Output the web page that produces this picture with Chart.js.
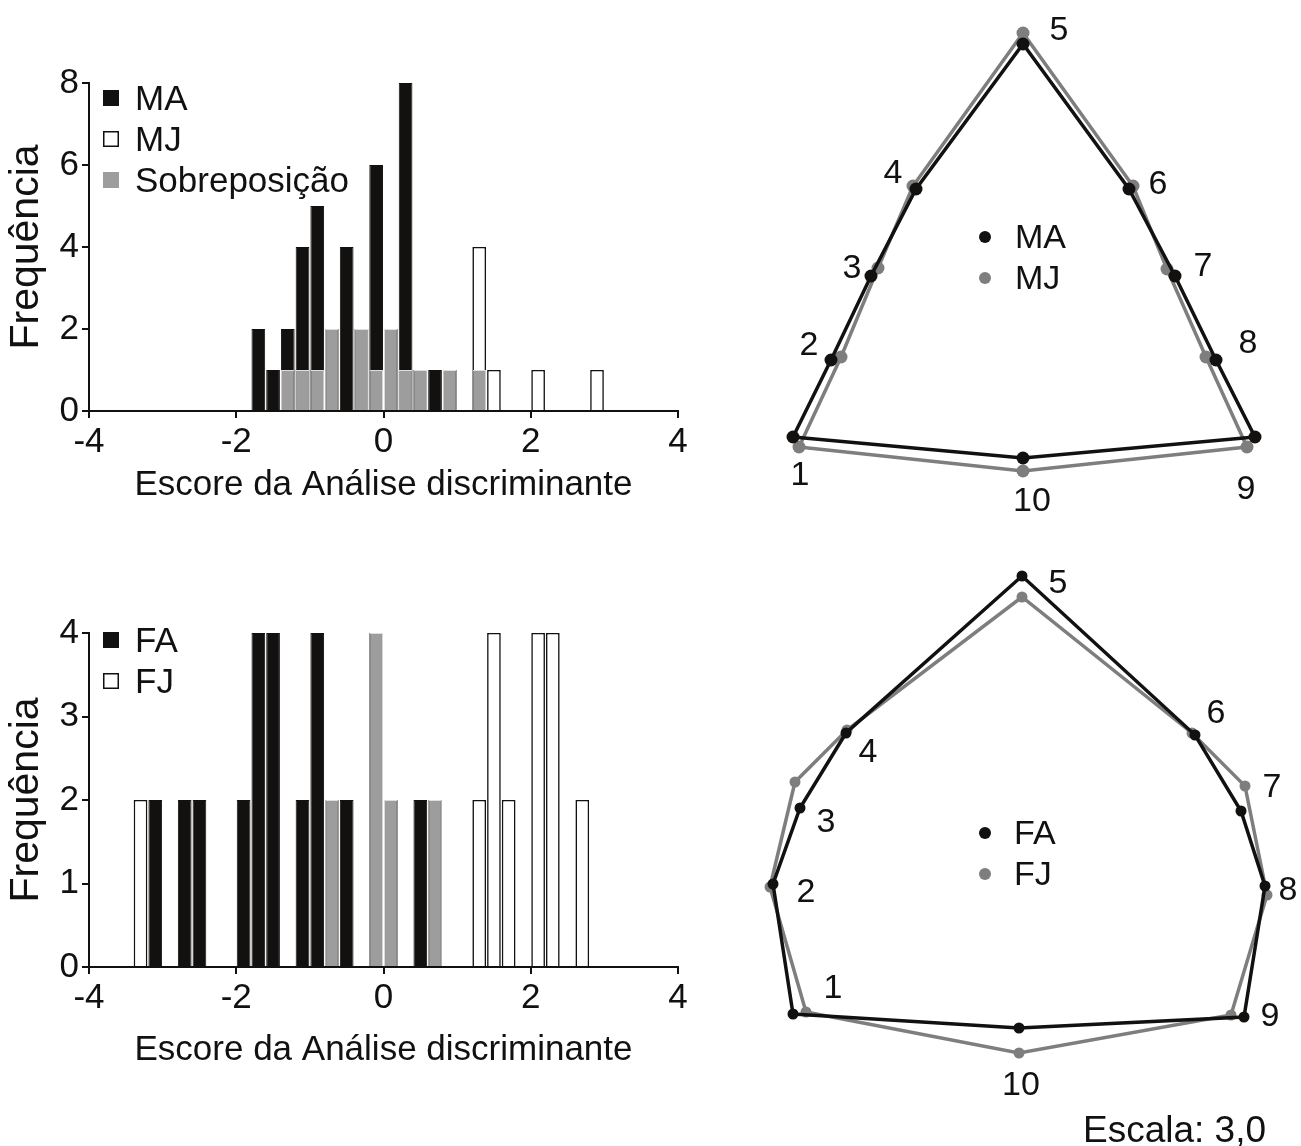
<!DOCTYPE html>
<html lang="pt">
<head>
<meta charset="utf-8">
<title>Análise discriminante e forma média</title>
<script src="https://cdn.jsdelivr.net/npm/chart.js@4.4.1/dist/chart.umd.min.js"></script>
<style>
  html, body { margin: 0; padding: 0; background: #fff; }
  body { width: 1301px; height: 1146px; position: relative; overflow: hidden;
         font-family: "Liberation Sans", Arial, sans-serif; }
  canvas { position: absolute; }
  #escala { position: absolute; left: 1083px; top: 1107px; font-size: 37px; line-height: 46px; color: #111; }
</style>
</head>
<body>
<canvas id="histMachos" width="720" height="540" style="left:0;top:0"></canvas>
<canvas id="histFemeas" width="720" height="586" style="left:0;top:560px"></canvas>
<canvas id="formaMachos" width="541" height="540" style="left:760px;top:0"></canvas>
<canvas id="formaFemeas" width="561" height="596" style="left:740px;top:550px"></canvas>
<div id="escala">Escala: 3,0</div>
<script>
// ---------- Histogram data: bin centres of the discriminant score and counts per bin ----------
const scoreBinsMachos = [-1.7, -1.5, -1.3, -1.1, -0.9, -0.7, -0.5, -0.3, -0.1, 0.1, 0.3, 0.5,
                         0.7, 0.9, 1.1, 1.3, 1.5, 1.7, 1.9, 2.1, 2.3, 2.5, 2.7, 2.9];
const freqMA            = [2, 1, 2, 4, 5, 2, 4, 2, 6, 2, 8, 1, 1, 1, 0, 1, 0, 0, 0, 0, 0, 0, 0, 0];
const freqMJ            = [0, 0, 1, 1, 1, 2, 0, 2, 1, 2, 1, 1, 0, 1, 0, 4, 1, 0, 0, 1, 0, 0, 0, 1];
const freqSobrepMachos  = [0, 0, 1, 1, 1, 2, 0, 2, 1, 2, 1, 1, 0, 1, 0, 1, 0, 0, 0, 0, 0, 0, 0, 0];

const scoreBinsFemeas = [-3.3, -3.1, -2.7, -2.5, -1.9, -1.7, -1.5, -1.1, -0.9, -0.7, -0.5,
                         -0.1, 0.1, 0.5, 0.7, 1.3, 1.5, 1.7, 2.1, 2.3, 2.7];
const freqFA            = [0, 2, 2, 2, 2, 4, 4, 2, 4, 2, 2, 4, 2, 2, 2, 0, 0, 0, 0, 0, 0];
const freqFJ            = [2, 0, 0, 0, 0, 0, 0, 0, 0, 2, 0, 4, 2, 0, 2, 2, 4, 2, 4, 4, 2];
const freqSobrepFemeas  = [0, 0, 0, 0, 0, 0, 0, 0, 0, 2, 0, 4, 2, 0, 2, 0, 0, 0, 0, 0, 0];

const scoreTicks      = [-4, -2, 0, 2, 4];
const freqTicksMachos = [0, 2, 4, 6, 8];
const freqTicksFemeas = [0, 1, 2, 3, 4];

// ---------- Mean shapes: landmark coordinates (landmarks 1..10) ----------
const landmarkNames = ['1', '2', '3', '4', '5', '6', '7', '8', '9', '10'];
const formaMA = [[-2.30, 0.21], [-1.92, 0.98], [-1.52, 1.82], [-1.07, 2.69], [0.00, 4.14],
                 [1.06, 2.69], [1.52, 1.82], [1.93, 0.98], [2.32, 0.21], [0.00, 0.00]];
const formaMJ = [[-2.24, 0.11], [-1.82, 1.01], [-1.45, 1.90], [-1.10, 2.72], [0.00, 4.25],
                 [1.10, 2.72], [1.44, 1.89], [1.83, 1.01], [2.24, 0.11], [0.00, -0.13]];
const formaFA = [[-2.27, 0.14], [-2.47, 1.44], [-2.20, 2.20], [-1.74, 2.95], [0.02, 4.52],
                 [1.75, 2.93], [2.21, 2.17], [2.45, 1.42], [2.24, 0.11], [-0.01, 0.00]];
const formaFJ = [[-2.14, 0.16], [-2.50, 1.41], [-2.25, 2.46], [-1.73, 2.98], [0.02, 4.31],
                 [1.72, 2.95], [2.25, 2.42], [2.47, 1.33], [2.11, 0.13], [-0.01, -0.25]];

// ---------- Styling ----------
const FONT = '"Liberation Sans", Arial, Helvetica, sans-serif';
const INK = '#111111';
const BAR_BLACK = '#121110';
const BAR_GRAY = '#9d9d9d';
const LINE_GRAY = '#7e7e7e';

Chart.defaults.font.family = FONT;
Chart.defaults.color = INK;

const toBars = (bins, counts) => bins.map((x, i) => ({ x, y: counts[i] > 0 ? counts[i] : null }));

// Square-swatch legend drawn inside the plot area
const squareLegend = {
  id: 'squareLegend',
  afterDraw(chart, args, opts) {
    const { ctx } = chart;
    ctx.save();
    ctx.font = `${opts.fontSize}px ${FONT}`;
    ctx.textBaseline = 'middle';
    ctx.textAlign = 'left';
    opts.datasets.forEach((di, i) => {
      const ds = chart.data.datasets[di];
      const cy = opts.top + i * opts.spacing;
      const s = opts.size;
      ctx.fillStyle = ds.backgroundColor;
      ctx.fillRect(opts.left, cy - s / 2, s, s);
      if (ds.backgroundColor === '#ffffff') {
        ctx.strokeStyle = INK;
        ctx.lineWidth = 1.5;
        ctx.strokeRect(opts.left + 0.75, cy - s / 2 + 0.75, s - 1.5, s - 1.5);
      }
      ctx.fillStyle = INK;
      ctx.fillText(ds.label, opts.textLeft, cy + 2);
    });
    ctx.restore();
  }
};

function histogram(canvasId, bins, adult, juvenile, overlap, names, yTicks, geom, legendOpts) {
  const tickFont = { family: FONT, size: 35 };
  return new Chart(document.getElementById(canvasId), {
    type: 'bar',
    data: {
      datasets: [
        { label: 'Sobreposição', data: toBars(bins, overlap), backgroundColor: BAR_GRAY,
          borderColor: '#dedede', borderWidth: 1, order: 0 },
        { label: names[0], data: toBars(bins, adult), backgroundColor: BAR_BLACK,
          borderColor: BAR_BLACK, borderWidth: 1, order: 1 },
        { label: names[1], data: toBars(bins, juvenile), backgroundColor: '#ffffff',
          borderColor: INK, borderWidth: 1.6, order: 2 }
      ]
    },
    options: {
      responsive: false,
      animation: false,
      events: [],
      layout: { padding: geom.padding },
      datasets: { bar: { grouped: false, barPercentage: 0.93, categoryPercentage: 1 } },
      plugins: { legend: { display: false }, tooltip: { enabled: false }, squareLegend: legendOpts },
      scales: {
        x: {
          type: 'linear',
          offset: false,
          min: scoreTicks[0], max: scoreTicks[scoreTicks.length - 1],
          afterBuildTicks: s => { s.ticks = scoreTicks.map(v => ({ value: v })); },
          ticks: { font: tickFont, color: INK, padding: 3, maxRotation: 0, autoSkip: false },
          grid: { offset: false, drawOnChartArea: false, drawTicks: true, tickLength: 7, color: INK, lineWidth: 2 },
          border: { display: true, color: INK, width: 2 },
          title: { display: true, text: 'Escore da Análise discriminante', font: tickFont,
                   color: INK, padding: { top: 0, bottom: geom.titleBottom } },
          afterFit: s => { s.height = geom.xHeight; }
        },
        y: {
          type: 'linear',
          min: yTicks[0], max: yTicks[yTicks.length - 1],
          afterBuildTicks: s => { s.ticks = yTicks.map(v => ({ value: v })); },
          ticks: { font: tickFont, color: INK, padding: 3 },
          grid: { drawOnChartArea: false, drawTicks: true, tickLength: 7, color: INK, lineWidth: 2 },
          border: { display: true, color: INK, width: 2 },
          title: { display: true, text: 'Frequência', font: { family: FONT, size: 41 }, color: INK,
                   padding: { top: 2, bottom: 0 } },
          afterFit: s => { s.width = 89; }
        }
      }
    },
    plugins: [squareLegend]
  });
}

histogram('histMachos', scoreBinsMachos, freqMA, freqMJ, freqSobrepMachos, ['MA', 'MJ'],
  freqTicksMachos,
  { padding: { left: 0, right: 42, top: 83, bottom: 540 - 411 - 95 }, xHeight: 95, titleBottom: 0 },
  { datasets: [1, 2, 0], left: 103, size: 16, top: 98, spacing: 41, textLeft: 135, fontSize: 35 });

histogram('histFemeas', scoreBinsFemeas, freqFA, freqFJ, freqSobrepFemeas, ['FA', 'FJ'],
  freqTicksFemeas,
  { padding: { left: 0, right: 42, top: 73, bottom: 586 - 407 - 105 }, xHeight: 105, titleBottom: 1 },
  { datasets: [1, 2], left: 103, size: 16, top: 80, spacing: 41, textLeft: 135, fontSize: 35 });

// ---------- Mean shape outlines ----------
const landmarkNumbers = {
  id: 'landmarkNumbers',
  afterDatasetsDraw(chart, args, opts) {
    const { ctx } = chart;
    const pts = chart.getDatasetMeta(0).data;
    ctx.save();
    ctx.font = `${opts.fontSize}px ${FONT}`;
    ctx.fillStyle = INK;
    ctx.textAlign = 'center';
    ctx.textBaseline = 'middle';
    landmarkNames.forEach((name, i) => {
      const [dx, dy] = opts.offsets[i];
      ctx.fillText(name, pts[i].x + dx, pts[i].y + dy);
    });
    ctx.restore();
  }
};

const dotLegend = {
  id: 'dotLegend',
  afterDraw(chart, args, opts) {
    const { ctx } = chart;
    ctx.save();
    ctx.font = `${opts.fontSize}px ${FONT}`;
    ctx.textBaseline = 'middle';
    ctx.textAlign = 'left';
    chart.data.datasets.forEach((ds, i) => {
      const cy = opts.top + i * opts.spacing;
      ctx.fillStyle = ds.borderColor;
      ctx.beginPath();
      ctx.arc(opts.left, cy, opts.radius, 0, Math.PI * 2);
      ctx.fill();
      ctx.fillStyle = INK;
      ctx.fillText(ds.label, opts.textLeft, cy + 2);
    });
    ctx.restore();
  }
};

// outline runs 1 → 10 and back to landmark 1
const outlineOrder = [0, 1, 2, 3, 4, 5, 6, 7, 8, 9, 0];
const outline = coords => outlineOrder.map(k => ({ x: coords[k][0], y: coords[k][1] }));

function shapeChart(canvasId, adult, juvenile, names, range, radius, labelOffsets, legendOpts) {
  const lineSet = (label, coords, color) => ({
    label, data: outline(coords), showLine: true, borderColor: color, backgroundColor: color,
    borderWidth: 3.5, tension: 0, pointRadius: c => (c.dataIndex < 10 ? radius : 0),
    pointBackgroundColor: color, pointBorderColor: color, pointBorderWidth: 0, clip: false
  });
  return new Chart(document.getElementById(canvasId), {
    type: 'scatter',
    data: { datasets: [lineSet(names[0], adult, BAR_BLACK), lineSet(names[1], juvenile, LINE_GRAY)] },
    options: {
      responsive: false,
      animation: false,
      events: [],
      layout: { padding: 0, autoPadding: false },
      plugins: { legend: { display: false }, tooltip: { enabled: false },
                 landmarkNumbers: { offsets: labelOffsets, fontSize: 34 }, dotLegend: legendOpts },
      scales: {
        x: { type: 'linear', display: false, min: range.x[0], max: range.x[1] },
        y: { type: 'linear', display: false, min: range.y[0], max: range.y[1] }
      }
    },
    plugins: [landmarkNumbers, dotLegend]
  });
}

shapeChart('formaMachos', formaMA, formaMJ, ['MA', 'MJ'],
  { x: [-2.63, 2.78], y: [-0.82, 4.58] }, 6.5,
  [[7, 39], [-22, -14], [-19, -7], [-23, -15], [36, -13], [29, -4], [28, -9], [32, -16], [-9, 53], [9, 44]],
  { left: 225, top: 237, spacing: 41, radius: 6, textLeft: 255, fontSize: 34 });

shapeChart('formaFemeas', formaFA, formaFJ, ['FA', 'FJ'],
  { x: [-2.80, 2.81], y: [-1.18, 4.78] }, 5.5,
  [[40, -25], [33, 9], [26, 15], [22, 20], [36, 8], [21, -21], [31, -23], [23, 5], [26, 0], [2, 58]],
  { left: 245, top: 283, spacing: 41, radius: 6, textLeft: 274, fontSize: 34 });
</script>
</body>
</html>
